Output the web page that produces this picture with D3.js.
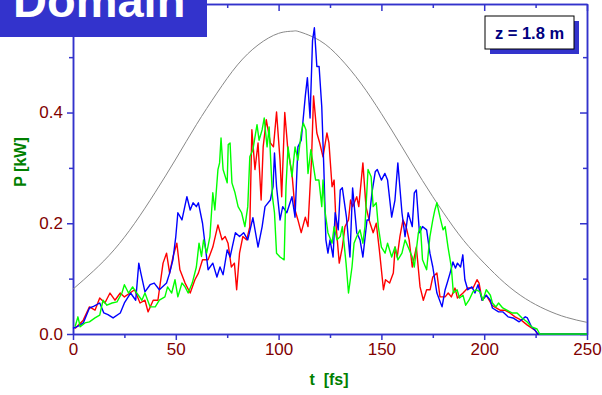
<body style="margin:0">

<script src="https://d3js.org/d3.v7.min.js"></script>

<script>
// window dimensions
var svgWidth = 602;
var svgHeight = 395;
// plot frame
var plotLeft = 73, plotRight = 587, plotTop = 4, plotBottom = 334;
var axisColor = '#3333cc';

// ticks
var xMajor = [0, 50, 100, 150, 200, 250];
var xMinor = [25, 75, 125, 175, 225];
var yMajor = [0, 0.2, 0.4];
var yMinor = [0.1, 0.3, 0.5];

// envelope (grey), read every 10 fs
var envT = [0, 10, 20, 30, 40, 50, 60, 70, 80, 90, 100, 107, 110, 120, 130, 140, 150, 160, 170, 180, 190, 200, 210, 220, 230, 240, 250];
var envP = [0.081, 0.114, 0.152, 0.2, 0.256, 0.316, 0.378, 0.435, 0.486, 0.522, 0.543, 0.547, 0.546, 0.53, 0.498, 0.453, 0.398, 0.338, 0.277, 0.22, 0.169, 0.128, 0.092, 0.064, 0.044, 0.03, 0.021];

// [t fs, P kW]
var blue = [[0,0.01],[3,0.015],[5,0.02],[8,0.047],[10,0.05],[13,0.056],[15,0.038],[17,0.035],[19.5,0.029],[23,0.038],[25,0.056],[28,0.074],[30.5,0.061],[32,0.128],[33,0.11],[35,0.076],[37.5,0.089],[39.5,0.092],[42,0.08],[45.5,0.092],[47,0.11],[48.6,0.134],[50,0.176],[51,0.219],[53,0.206],[55.4,0.248],[57,0.224],[58.4,0.237],[60,0.23],[61,0.237],[63,0.2],[65.7,0.116],[68,0.128],[70,0.103],[71.5,0.121],[73,0.107],[75,0.152],[76.4,0.139],[79,0.183],[81,0.176],[83,0.183],[85,0.17],[87.5,0.21],[90,0.157],[92,0.194],[93.4,0.23],[96,0.242],[97.3,0.266],[98,0.327],[99,0.266],[100.7,0.206],[102,0.23],[104,0.219],[106.5,0.248],[108,0.211],[109.4,0.338],[111,0.35],[113,0.43],[114,0.463],[115.3,0.39],[116.5,0.53],[117.4,0.553],[118.6,0.483],[119.7,0.483],[121,0.41],[122,0.3],[123,0.17],[124,0.146],[125,0.17],[126.5,0.139],[127.5,0.219],[129,0.188],[130,0.26],[131,0.264],[133,0.211],[134.7,0.139],[136,0.264],[138,0.183],[139.6,0.17],[141,0.139],[143,0.206],[144,0.206],[145.4,0.255],[147,0.293],[148,0.297],[150,0.278],[151.7,0.29],[153,0.278],[155,0.211],[156.6,0.242],[158,0.309],[160,0.219],[161.5,0.176],[163,0.219],[165,0.194],[166,0.255],[167,0.26],[168.5,0.183],[170,0.194],[172,0.188],[173.6,0.146],[175,0.121],[177,0.074],[179.5,0.049],[181,0.08],[182,0.092],[183.4,0.11],[184.8,0.13],[186,0.119],[187,0.128],[188.5,0.121],[189.6,0.143],[190.6,0.098],[192,0.08],[194,0.085],[195.5,0.074],[197,0.089],[199,0.061],[201,0.07],[203,0.061],[204,0.047],[207,0.04],[209,0.04],[211.6,0.031],[214,0.029],[217,0.022],[220,0.031],[221,0.029],[223,0.013],[224.7,0.007],[226,0],[250,0]];

var red = [[1,0.01],[5,0.025],[8,0.049],[10.7,0.043],[13,0.065],[15.5,0.056],[18,0.074],[20.4,0.061],[23,0.074],[25,0.067],[27.7,0.074],[30,0.08],[32.6,0.056],[35,0.061],[36.5,0.04],[39,0.061],[41.3,0.061],[43.8,0.128],[45.5,0.146],[47,0.11],[48.6,0.139],[50.5,0.164],[52,0.116],[54.5,0.092],[57,0.074],[59.3,0.098],[61,0.11],[63,0.134],[65.7,0.134],[68,0.157],[70.5,0.197],[72.5,0.17],[74,0.176],[75.4,0.164],[77,0.121],[78.5,0.128],[79.6,0.08],[81,0.146],[82.6,0.176],[84.5,0.17],[86,0.194],[87,0.369],[88.5,0.297],[90,0.345],[91.5,0.242],[92.5,0.338],[94,0.387],[96,0.345],[97.5,0.338],[99,0.401],[100.7,0.314],[101.5,0.248],[103,0.4],[104.5,0.333],[106.5,0.29],[108,0.224],[109.4,0.206],[111,0.183],[113,0.211],[114.3,0.194],[116,0.314],[117,0.43],[118.6,0.363],[120,0.345],[121.6,0.32],[123.5,0.363],[124.5,0.345],[126,0.266],[127,0.278],[128,0.194],[129.5,0.128],[131,0.157],[132.3,0.194],[134,0.206],[135,0.242],[136,0.23],[138,0.248],[139,0.23],[141,0.309],[142.5,0.23],[144,0.206],[146,0.183],[147.5,0.2],[149,0.152],[151,0.08],[152,0.098],[154,0.092],[155.8,0.11],[156.7,0.157],[157.7,0.139],[159,0.176],[160.5,0.206],[162,0.194],[163.5,0.17],[165,0.121],[167,0.157],[168.8,0.085],[170.4,0.061],[172,0.08],[173.7,0.08],[175,0.103],[177,0.11],[178.5,0.067],[181,0.067],[182.5,0.074],[184,0.067],[185.8,0.083],[187,0.065],[189.7,0.074],[192,0.083],[194.6,0.083],[196.5,0.098],[197.5,0.092],[199,0.061],[201,0.07],[203.8,0.052],[205,0.049],[207.7,0.043],[210,0.043],[212.5,0.038],[215,0.031],[218,0.025],[221,0.016],[223,0.011],[224.7,0.007],[226,0],[250,0]];

var green = [[1,0.013],[2.4,0.031],[3.5,0.013],[5.8,0.02],[8,0.022],[10.7,0.029],[13,0.034],[14.6,0.061],[16.5,0.052],[19,0.056],[21.4,0.058],[23.8,0.074],[25,0.089],[27,0.074],[29,0.085],[31,0.074],[33.5,0.061],[35,0.074],[37.5,0.049],[40,0.049],[42,0.061],[44.7,0.067],[46,0.085],[48,0.074],[49.6,0.098],[51,0.067],[53,0.092],[54.5,0.085],[56,0.074],[58,0.092],[60,0.121],[61.3,0.164],[62.5,0.14],[63.5,0.17],[65,0.146],[66.6,0.176],[68,0.255],[69,0.224],[70.5,0.297],[71.3,0.309],[72,0.354],[73,0.297],[75,0.273],[75.5,0.342],[76.4,0.345],[77.3,0.273],[78.8,0.255],[80.3,0.23],[82,0.219],[83.6,0.194],[85,0.23],[86,0.32],[87.5,0.333],[89.5,0.378],[90.5,0.35],[92,0.369],[93,0.39],[94.4,0.338],[95.4,0.374],[97,0.248],[98,0.219],[99,0.146],[100.7,0.139],[102.7,0.134],[103.6,0.266],[104.6,0.338],[106.5,0.284],[108,0.338],[109.4,0.314],[111,0.363],[112,0.381],[113.3,0.369],[114.3,0.29],[115.7,0.333],[116.7,0.309],[118,0.278],[119.6,0.278],[121,0.23],[121.6,0.278],[122.5,0.224],[124,0.183],[126,0.164],[127,0.194],[128.4,0.17],[130,0.176],[131,0.194],[132.8,0.128],[134,0.074],[135.7,0.121],[136.7,0.164],[138,0.176],[139.6,0.188],[141,0.164],[142,0.194],[143.5,0.297],[145,0.284],[146,0.23],[147.5,0.237],[148.5,0.194],[150,0.157],[151.8,0.146],[153,0.164],[155,0.139],[156.6,0.157],[158,0.134],[160,0.146],[161.5,0.17],[163,0.157],[165,0.139],[166,0.121],[168,0.183],[169,0.194],[170,0.134],[172,0.116],[173.6,0.176],[175,0.206],[176,0.224],[177,0.237],[178.5,0.211],[180,0.188],[181,0.194],[182.4,0.157],[184,0.121],[185,0.074],[186.8,0.08],[188,0.065],[189.7,0.07],[191,0.052],[192.6,0.061],[194.5,0.076],[196,0.08],[198,0.076],[199.4,0.061],[201,0.08],[203,0.07],[204,0.056],[205.7,0.049],[207,0.056],[209,0.047],[211,0.043],[213.5,0.038],[216,0.038],[218.4,0.029],[220.8,0.022],[223,0.013],[225.7,0.009],[227,0],[250,0]];

var svg = d3.select('body').append('svg')
	.attr('width', svgWidth)
	.attr('height', svgHeight)
	.style('display', 'block')
	.style('font-family', 'Liberation Sans, Arial, sans-serif');

var x = d3.scaleLinear().domain([0, 250]).range([plotLeft, plotRight]);
var y = d3.scaleLinear().domain([0, 0.596]).range([plotBottom, plotTop]);

// axes: bottom/left outward, top/right inward
function styleAxis(g) {
	g.select('.domain').attr('stroke', axisColor).attr('stroke-width', 1.5);
	g.selectAll('.tick line').attr('stroke', axisColor).attr('stroke-width', 1.5);
	g.selectAll('.tick text').attr('fill', '#800000').style('font-size', '17px');
}

svg.append('g').attr('transform', 'translate(0,' + plotBottom + ')')
	.call(d3.axisBottom(x).tickValues(xMajor).tickSize(6).tickSizeOuter(0).tickPadding(3))
	.call(styleAxis);
svg.append('g').attr('transform', 'translate(0,' + plotBottom + ')')
	.call(d3.axisBottom(x).tickValues(xMinor).tickSize(4).tickSizeOuter(0).tickFormat(''))
	.call(styleAxis);
svg.append('g').attr('transform', 'translate(0,' + plotTop + ')')
	.call(d3.axisBottom(x).tickValues(xMajor).tickSize(7).tickSizeOuter(0).tickFormat(''))
	.call(styleAxis);
svg.append('g').attr('transform', 'translate(0,' + plotTop + ')')
	.call(d3.axisBottom(x).tickValues(xMinor).tickSize(4).tickSizeOuter(0).tickFormat(''))
	.call(styleAxis);

svg.append('g').attr('transform', 'translate(' + plotLeft + ',0)')
	.call(d3.axisLeft(y).tickValues(yMajor).tickSize(6).tickSizeOuter(0).tickPadding(4).tickFormat(d3.format('.1f')))
	.call(styleAxis);
svg.append('g').attr('transform', 'translate(' + plotLeft + ',0)')
	.call(d3.axisLeft(y).tickValues(yMinor).tickSize(4).tickSizeOuter(0).tickFormat(''))
	.call(styleAxis);
svg.append('g').attr('transform', 'translate(' + plotRight + ',0)')
	.call(d3.axisLeft(y).tickValues(yMajor).tickSize(7).tickSizeOuter(0).tickFormat(''))
	.call(styleAxis);
svg.append('g').attr('transform', 'translate(' + plotRight + ',0)')
	.call(d3.axisLeft(y).tickValues(yMinor).tickSize(4).tickSizeOuter(0).tickFormat(''))
	.call(styleAxis);

// envelope
var env = envT.map(function(t, i) { return [t, envP[i]]; });
var line = d3.line()
	.x(function(d) { return x(d[0]); })
	.y(function(d) { return y(d[1]); });

svg.append('path')
	.attr('d', line.curve(d3.curveNatural)(env))
	.attr('fill', 'none')
	.attr('stroke', '#888888')
	.attr('stroke-width', 1);

line.curve(d3.curveLinear);
var series = [[red, '#ff0000'], [blue, '#0000ff'], [green, '#00ff00']];
svg.selectAll('path.s')
	.data(series)
	.enter().append('path')
	.attr('class', 's')
	.attr('d', function(d) { return line(d[0]); })
	.attr('fill', 'none')
	.attr('stroke', function(d) { return d[1]; })
	.attr('stroke-width', 1.4)
	.attr('stroke-linejoin', 'round');

// axis titles
svg.append('text')
	.attr('x', 329).attr('y', 385)
	.attr('text-anchor', 'middle')
	.attr('fill', '#008000')
	.style('font-size', '16px').style('font-weight', 'bold')
	.text('t\u00a0 [fs]');
svg.append('text')
	.attr('transform', 'translate(26,162) rotate(-90)')
	.attr('text-anchor', 'middle')
	.attr('fill', '#008000')
	.style('font-size', '16px').style('font-weight', 'bold')
	.text('P [kW]');

// title box
svg.append('rect')
	.attr('x', 0).attr('y', 0).attr('width', 207).attr('height', 37)
	.attr('fill', axisColor);
svg.append('text')
	.attr('x', 13).attr('y', 17)
	.attr('fill', 'white')
	.style('font-size', '47px').style('font-weight', 'bold')
	.text('Domain');

// z label box with shadow
svg.append('rect')
	.attr('x', 490).attr('y', 21).attr('width', 89).attr('height', 33)
	.attr('fill', axisColor);
svg.append('rect')
	.attr('x', 485).attr('y', 16).attr('width', 89).attr('height', 33)
	.attr('fill', 'white')
	.attr('stroke', 'black')
	.attr('stroke-width', 1);
svg.append('text')
	.attr('x', 529.5).attr('y', 39)
	.attr('text-anchor', 'middle')
	.attr('fill', '#000080')
	.style('font-size', '16.5px').style('font-weight', 'bold')
	.text('z = 1.8 m');
</script>
</body>
